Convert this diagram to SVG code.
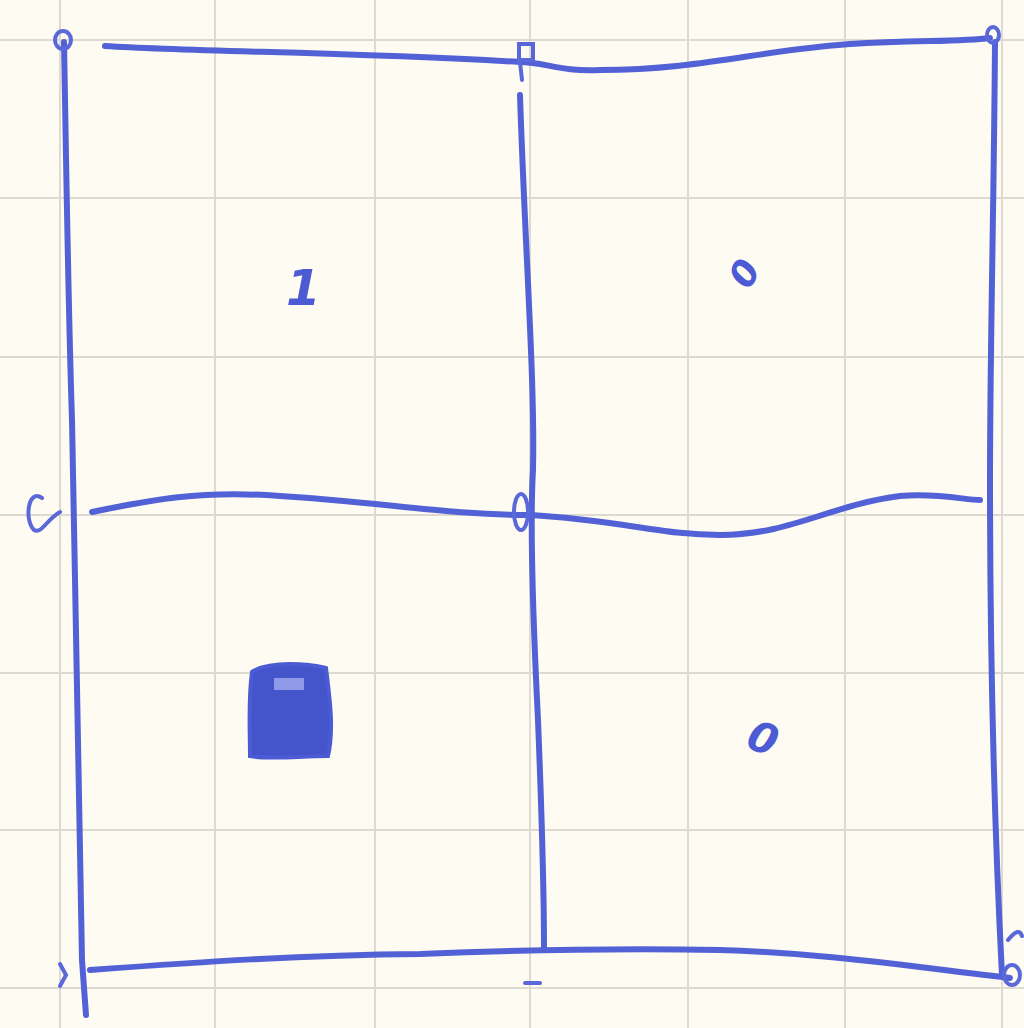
<svg xmlns="http://www.w3.org/2000/svg" width="1024" height="1028" viewBox="0 0 1024 1028">
<defs>
<style>
.paper{fill:#fdfbf2}
.grid{stroke:#dedad2;stroke-width:2;fill:none}
.ink{stroke:#5262d6;stroke-width:6;fill:none;stroke-linecap:round;stroke-linejoin:round}
.inkthin{stroke:#5a68da;stroke-width:4;fill:none;stroke-linecap:round}
.mark{fill:#4c5bd4;font-family:"DejaVu Sans",sans-serif;font-style:italic}
</style>
</defs>
<rect class="paper" x="0" y="0" width="1024" height="1028"/>
<g id="graph-paper" class="grid">
<path d="M60 0V1028M215 0V1028M375 0V1028M530 0V1028M688 0V1028M845 0V1028M1002 0V1028"/>
<path d="M0 40H1024M0 198H1024M0 357H1024M0 515H1024M0 673H1024M0 830H1024M0 988H1024"/>
</g>
<g id="lines" class="ink">
<path d="M105 46 C200 52 350 52 520 62 C545 62 560 72 600 70 C700 70 760 50 850 44 C920 40 960 42 990 38"/>
<path d="M64 42 C66 150 68 300 72 420 C76 600 78 800 82 960 L86 1015"/>
<path d="M520 95 C525 250 535 380 533 470 C530 520 532 600 538 720 C542 820 544 900 544 948"/>
<path d="M995 42 C994 200 990 350 990 480 C990 650 994 820 1002 975"/>
<path d="M92 512 C150 500 200 490 280 496 C380 502 450 515 530 515 C620 520 660 535 720 535 C790 535 830 505 900 496 C940 493 965 500 980 500"/>
<path d="M90 970 C200 962 300 955 420 954 C520 950 620 948 720 950 C820 953 900 965 1010 978"/>
</g>
<g id="vertex-marks" class="inkthin">
<ellipse cx="63" cy="40" rx="8" ry="9"/>
<rect x="519" y="44" width="14" height="16"/>
<path d="M520 62 L522 80"/>
<ellipse cx="993" cy="35" rx="6" ry="8"/>
<path d="M42 498 C28 488 24 520 34 530 C42 534 46 520 60 512"/>
<ellipse cx="521" cy="512" rx="7" ry="18"/>
<path d="M60 964 L66 975 L60 986"/>
<path d="M525 983 H540"/>
<ellipse cx="1012" cy="975" rx="8" ry="10"/>
<path d="M1008 940 C1016 930 1020 930 1022 936"/>
</g>
<g id="cell-marks">
<text class="mark" x="286" y="305" font-size="50" font-weight="bold">1</text>
<text class="mark" x="728" y="282" font-size="36" font-weight="bold" transform="rotate(-60 746 268)">0</text>
<text class="mark" x="750" y="755" font-size="42" font-weight="bold" transform="rotate(20 770 735)">0</text>
<path d="M252 672 C270 660 310 664 326 668 C330 700 334 730 328 756 C300 756 270 760 250 756 C250 730 248 700 252 672 Z" fill="#4455cc" stroke="#4c5bd4" stroke-width="4"/>
<rect x="274" y="678" width="30" height="12" fill="#8f9be8"/>
</g>
</svg>
